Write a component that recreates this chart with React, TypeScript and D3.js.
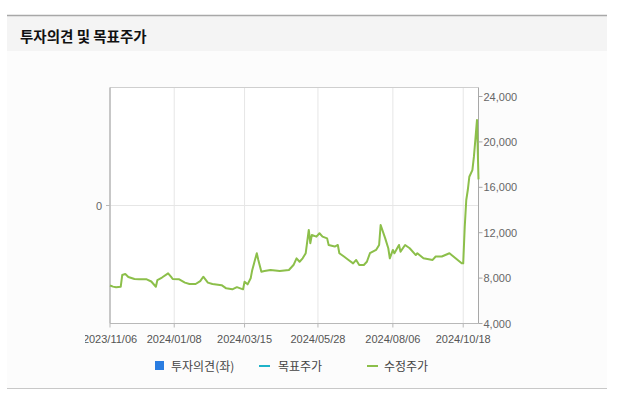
import React from "react";
import * as d3 from "d3";

const TITLE = "투자의견 및 목표주가";
const LEGEND = ["투자의견(좌)", "목표주가", "수정주가"];
const X_TICKS = ["2023-11-06", "2024-01-08", "2024-03-15", "2024-05-28", "2024-08-06", "2024-10-18"];
const Y_TICKS = [4000, 8000, 12000, 16000, 20000, 24000];
const LEFT_TICKS = [0];
const HOLIDAYS = [
  "2023-12-25", "2023-12-29", "2024-01-01", "2024-02-09", "2024-02-12", "2024-03-01",
  "2024-04-10", "2024-05-01", "2024-05-06", "2024-05-15", "2024-06-06", "2024-08-15",
  "2024-09-16", "2024-09-17", "2024-09-18", "2024-10-01", "2024-10-03", "2024-10-09",
];

const PRICE_DATES = [
  "2023-11-06", "2023-11-08", "2023-11-10", "2023-11-15", "2023-11-16", "2023-11-20", "2023-11-22",
  "2023-11-28", "2023-12-01", "2023-12-08", "2023-12-13", "2023-12-18", "2023-12-19", "2023-12-22",
  "2024-01-02", "2024-01-04", "2024-01-05", "2024-01-11", "2024-01-17", "2024-01-22", "2024-01-26",
  "2024-01-31", "2024-02-02", "2024-02-05", "2024-02-07", "2024-02-14", "2024-02-22", "2024-02-27",
  "2024-03-05", "2024-03-08", "2024-03-14", "2024-03-15", "2024-03-19", "2024-03-21", "2024-03-22",
  "2024-03-27", "2024-03-28", "2024-04-01", "2024-04-03", "2024-04-09", "2024-04-18", "2024-04-26",
  "2024-05-02", "2024-05-07", "2024-05-09", "2024-05-13", "2024-05-16", "2024-05-20", "2024-05-21",
  "2024-05-22", "2024-05-27", "2024-05-29", "2024-05-31", "2024-06-05", "2024-06-07", "2024-06-13",
  "2024-06-17", "2024-06-18", "2024-06-21", "2024-06-26", "2024-07-01", "2024-07-03", "2024-07-05",
  "2024-07-10", "2024-07-12", "2024-07-16", "2024-07-22", "2024-07-24", "2024-07-25", "2024-07-30",
  "2024-08-01", "2024-08-02", "2024-08-06", "2024-08-07", "2024-08-12", "2024-08-13", "2024-08-19",
  "2024-08-22", "2024-08-28", "2024-08-29", "2024-09-04", "2024-09-12", "2024-09-19", "2024-09-25",
  "2024-10-04", "2024-10-11", "2024-10-17", "2024-10-18", "2024-10-21", "2024-10-22", "2024-10-23",
  "2024-10-24", "2024-10-28", "2024-10-29", "2024-10-30", "2024-10-31", "2024-11-01",
];
const PRICE_VALUES = [
  7350, 7250, 7200, 7230, 8270, 8360, 8100,
  7920, 7900, 7890, 7700, 7240, 7830, 8050,
  8420, 8100, 7920, 7900, 7600, 7480, 7480,
  7740, 8120, 7950, 7600, 7480, 7380, 7100,
  7010, 7200, 7010, 7680, 7450, 7980, 8700,
  10190, 9600, 8560, 8620, 8710, 8620, 8710,
  9150, 9740, 9440, 9740, 10190, 12240, 11070,
  11800, 11650, 11950, 11650, 11500, 10920, 10780,
  10920, 10190, 9900, 9600, 9300, 9600, 9150,
  9150, 9440, 10190, 10480, 10920, 12680, 11500,
  10630, 9740, 10480, 10190, 10920, 10330, 10920,
  10630, 10030, 10190, 9740, 9600, 9900, 9900,
  10190, 9740, 9300, 9300, 12530, 14880, 15760,
  16930, 17520, 18700, 20300, 21930, 16700,
];

const fmt = d3.timeFormat("%Y-%m-%d");
const holidaySet = new Set(HOLIDAYS);
const tradingDays = d3
  .timeDay.range(new Date(2023, 10, 6), new Date(2024, 10, 2))
  .filter((d) => d.getDay() !== 0 && d.getDay() !== 6 && !holidaySet.has(fmt(d)))
  .map(fmt);
const dayIndex = (s: string) => {
  const i = tradingDays.indexOf(s);
  if (i >= 0) return i;
  return d3.bisectLeft(tradingDays, s);
};

export default function App() {
  const W = 624, H = 398;
  const L = 110, R = 478.5, T = 87.5, B = 323.5;
  const x = d3.scaleLinear().domain([0, tradingDays.length - 1]).range([L, R]);
  const y = d3.scaleLinear().domain([4000, 24000]).range([323.5, 96.5]);
  const yl = d3.scaleLinear().domain([-1, 1]).range([B, T]);
  const line = d3
    .line<number>()
    .x((_, i) => x(dayIndex(PRICE_DATES[i])))
    .y((v) => y(v));
  const axisFont = "'Liberation Sans', Arial, sans-serif";
  const krFont = "'Noto Sans CJK KR', 'Noto Sans', sans-serif";
  return (
    <svg width={W} height={H} style={{ position: "absolute", left: 0, top: 0 }}>
      <defs>
        <clipPath id="chartClip">
          <rect x={85} y={60} width={520} height={300} />
        </clipPath>
      </defs>
      <rect x={0} y={0} width={W} height={H} fill="#ffffff" />
      <rect x={7} y={51} width={600} height={337} fill="#fcfcfc" />
      <rect x={7} y={16} width={600} height={35} fill="#f4f4f4" />
      <line x1={7} x2={607} y1={15.5} y2={15.5} stroke="#a8a8a8" strokeWidth={1.5} />
      <line x1={7} x2={607} y1={388.5} y2={388.5} stroke="#c8c8c8" strokeWidth={1} />
      <text x={20} y={42} fontFamily={krFont} fontWeight="bold" fontSize={14.5} fill="#111">
        {TITLE}
      </text>

      <g clipPath="url(#chartClip)">
        <rect x={L} y={T} width={R - L} height={B - T} fill="#ffffff" />
        {X_TICKS.map((t) => (
          <line key={t} x1={x(dayIndex(t))} x2={x(dayIndex(t))} y1={T} y2={B} stroke="#e6e6e6" />
        ))}
        {LEFT_TICKS.map((t) => (
          <line key={t} x1={L} x2={R} y1={yl(t)} y2={yl(t)} stroke="#e6e6e6" />
        ))}
        <line x1={L} x2={R} y1={T} y2={T} stroke="#cfcfcf" />
        <line x1={L} x2={L} y1={T} y2={B} stroke="#b8b8b8" strokeWidth={1.5} />
        <line x1={R} x2={R} y1={T} y2={B} stroke="#a8a8a8" />
        <line x1={L} x2={R} y1={B} y2={B} stroke="#b8b8b8" />

        <path d={line(PRICE_VALUES) || ""} fill="none" stroke="#8cbf4a" strokeWidth={2} strokeLinejoin="round" />

        {Y_TICKS.map((t) => (
          <g key={t}>
            <line x1={R} x2={R + 4} y1={y(t)} y2={y(t)} stroke="#a8a8a8" />
            <text x={R + 5} y={y(t) + 4} fontFamily={axisFont} fontSize={11} fill="#666">
              {d3.format(",")(t)}
            </text>
          </g>
        ))}
        {LEFT_TICKS.map((t) => (
          <g key={t}>
            <line x1={L - 4} x2={L} y1={yl(t)} y2={yl(t)} stroke="#b8b8b8" />
            <text x={L - 8} y={yl(t) + 4} textAnchor="end" fontFamily={axisFont} fontSize={11} fill="#666">
              {t}
            </text>
          </g>
        ))}
        {X_TICKS.map((t) => (
          <g key={t}>
            <line x1={x(dayIndex(t))} x2={x(dayIndex(t))} y1={B} y2={B + 4} stroke="#b8b8b8" />
            <text x={x(dayIndex(t))} y={B + 19} textAnchor="middle" fontFamily={axisFont} fontSize={11} fill="#555">
              {t.replace(/-/g, "/")}
            </text>
          </g>
        ))}
      </g>

      <rect x={155} y={361} width={9} height={9} fill="#2a7de1" />
      <text x={171} y={371} fontFamily={krFont} fontSize={12} fill="#444">{LEGEND[0]}</text>
      <line x1={259} x2={270} y1={366} y2={366} stroke="#1fb3c9" strokeWidth={2} />
      <text x={278} y={371} fontFamily={krFont} fontSize={12} fill="#444">{LEGEND[1]}</text>
      <line x1={367} x2={378} y1={366} y2={366} stroke="#8cbf4a" strokeWidth={2} />
      <text x={384} y={371} fontFamily={krFont} fontSize={12} fill="#444">{LEGEND[2]}</text>
    </svg>
  );
}
